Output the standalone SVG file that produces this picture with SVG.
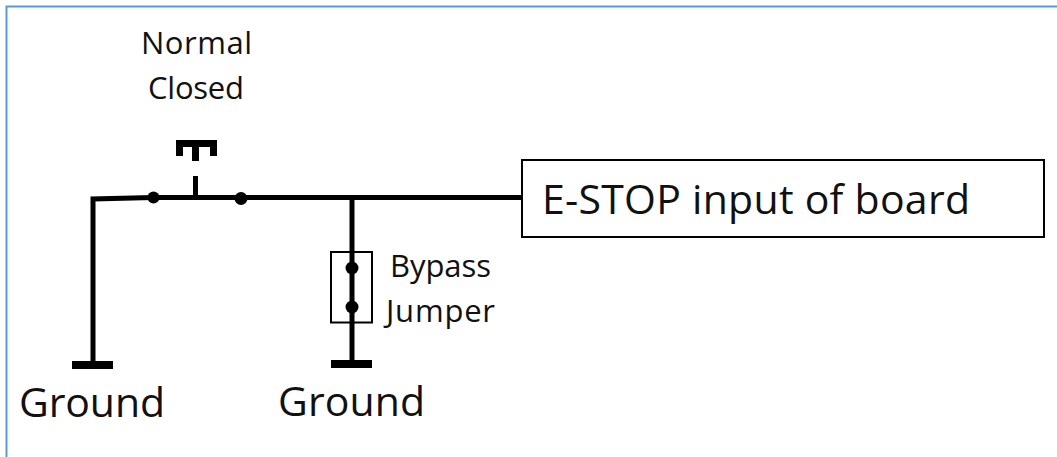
<svg xmlns="http://www.w3.org/2000/svg" width="1057" height="457" viewBox="0 0 1057 457">
<style>
.t{font-family:"Open Sans","Noto Sans",sans-serif;fill:#111}
.w{fill:none;stroke:#000;stroke-width:5}
.d{fill:#000}
.f{fill:#fff;stroke:#000;stroke-width:2}
</style>
<rect width="1057" height="457" fill="#fff"/>
<path d="M6.500 457V6.500H1057" fill="none" stroke="#5b9bd5" stroke-width="2"/>
<g id="connectors">
<path class="w" d="M93 365V199L153 197.500H522"/>
<path class="w" d="M352 198V305"/>
<path class="w" d="M352 305V363"/>
<path class="w" d="M195.500 197V176"/>
</g>
<g id="switch">
<path class="d" d="M176 140H217V156H210V147H199V161H192V147H183V156H176Z"/>
<circle class="d" cx="153.500" cy="197.500" r="6"/>
<circle class="d" cx="241" cy="198.500" r="6.500"/>
<text class="t" x="141" y="54" font-size="31" textLength="111">Normal</text>
<text class="t" x="148" y="99" font-size="31" textLength="96">Closed</text>
</g>
<g id="estop">
<rect class="f" x="522" y="160" width="522" height="77"/>
<text class="t" x="542" y="214" font-size="41" textLength="428">E-STOP input of board</text>
</g>
<g id="jumper">
<rect x="331" y="252" width="41" height="70.500" fill="none" stroke="#000" stroke-width="2"/>
<circle class="d" cx="352" cy="268" r="6.500"/>
<circle class="d" cx="352" cy="307" r="6.500"/>
<text class="t" x="390" y="277" font-size="31" textLength="101">Bypass</text>
<text class="t" x="386" y="322" font-size="31" textLength="109">Jumper</text>
</g>
<g id="ground1">
<rect class="d" x="72" y="361" width="41" height="8"/>
<text class="t" x="19" y="417" font-size="41" textLength="146">Ground</text>
</g>
<g id="ground2">
<rect class="d" x="331" y="360" width="41" height="8"/>
<text class="t" x="278" y="416" font-size="41" textLength="147">Ground</text>
</g>
</svg>
